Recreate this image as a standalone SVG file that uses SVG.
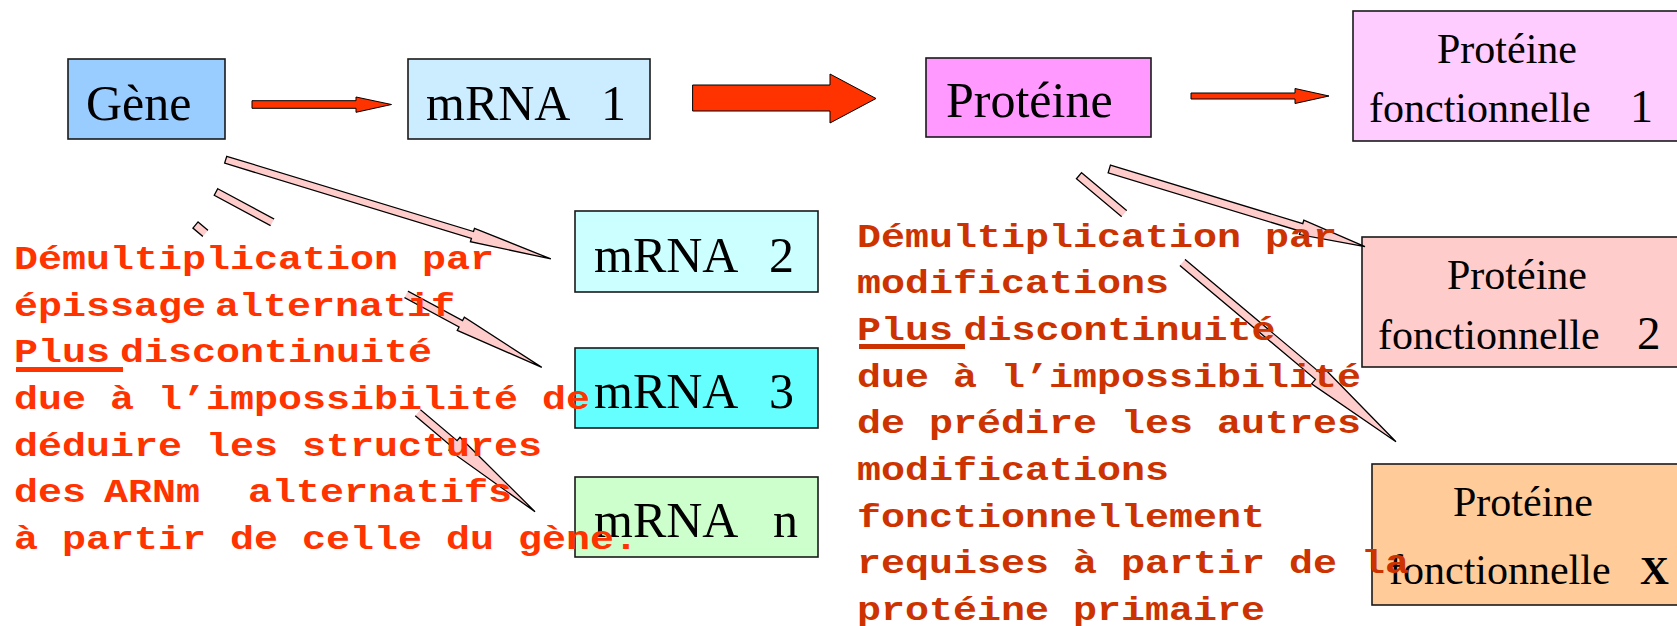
<svg xmlns="http://www.w3.org/2000/svg" width="1677" height="626" viewBox="0 0 1677 626">
  <style>
    .box { stroke: #1a1a1a; stroke-width: 1.6; }
    .lbl { font-family: "Liberation Serif", "Times New Roman", serif; fill: #000; }
    .big { font-size: 50px; }
    .mid { font-size: 42px; }
    .flow { fill: #FF3300; stroke: #000; stroke-width: 1; }
    .branch { fill: #FFCCCC; stroke: #000; stroke-width: 1.3; stroke-linejoin: miter; }
    .note { font-family: "Liberation Mono", "Courier New", monospace; font-weight: bold; font-size: 34px; }
    .noteL { fill: #FF3300; }
    .noteR { fill: #CC3300; }
  </style>
  <defs>
    <clipPath id="clipB" clipPathUnits="userSpaceOnUse">
      <rect x="-5" y="-20" width="69" height="40"/>
      <rect x="216" y="-20" width="170" height="40"/>
    </clipPath>
    <clipPath id="clipC" clipPathUnits="userSpaceOnUse">
      <rect x="-5" y="-20" width="18" height="40"/>
      <rect x="291" y="-20" width="170" height="40"/>
    </clipPath>
    <clipPath id="clipE" clipPathUnits="userSpaceOnUse">
      <rect x="-5" y="-20" width="64" height="40"/>
      <rect x="135" y="-20" width="300" height="40"/>
    </clipPath>
  </defs>

  <rect width="1677" height="626" fill="#fff"/>

  <!-- nodes -->
  <g id="gene">
    <rect class="box" x="68" y="59" width="157" height="80" fill="#99CCFF"/>
    <text class="lbl big" x="86" y="120">Gène</text>
  </g>
  <g id="mrna1">
    <rect class="box" x="408" y="59" width="242" height="80" fill="#CCECFF"/>
    <text class="lbl big" x="426" y="120">mRNA</text>
    <text class="lbl big" x="601" y="120">1</text>
  </g>
  <g id="proteine">
    <rect class="box" x="926" y="58" width="225" height="79" fill="#FF99FF"/>
    <text class="lbl big" x="946" y="117">Protéine</text>
  </g>
  <g id="prot-f1">
    <rect class="box" x="1353" y="11" width="340" height="130" fill="#FFCCFF"/>
    <text class="lbl mid" x="1507" y="63" text-anchor="middle">Protéine</text>
    <text class="lbl mid" x="1369" y="122">fonctionnelle</text>
    <text class="lbl" x="1630" y="122" font-size="46">1</text>
  </g>
  <g id="mrna2">
    <rect class="box" x="575" y="211" width="243" height="81" fill="#CCFFFF"/>
    <text class="lbl big" x="594" y="272">mRNA</text>
    <text class="lbl big" x="769" y="272">2</text>
  </g>
  <g id="mrna3">
    <rect class="box" x="575" y="348" width="243" height="80" fill="#66FFFF"/>
    <text class="lbl big" x="594" y="408">mRNA</text>
    <text class="lbl big" x="769" y="408">3</text>
  </g>
  <g id="mrnan">
    <rect class="box" x="575" y="477" width="243" height="80" fill="#CCFFCC"/>
    <text class="lbl big" x="594" y="537">mRNA</text>
    <text class="lbl big" x="773" y="537">n</text>
  </g>
  <g id="prot-f2">
    <rect class="box" x="1362" y="237" width="330" height="130" fill="#FFCCCC"/>
    <text class="lbl mid" x="1517" y="289" text-anchor="middle">Protéine</text>
    <text class="lbl mid" x="1378" y="349">fonctionnelle</text>
    <text class="lbl" x="1637" y="349" font-size="47">2</text>
  </g>
  <g id="prot-fx">
    <rect class="box" x="1372" y="464" width="320" height="141" fill="#FFCC99"/>
    <text class="lbl mid" x="1523" y="516" text-anchor="middle">Protéine</text>
    <text class="lbl mid" x="1389" y="584">fonctionnelle</text>
    <text class="lbl" x="1640" y="584" font-size="40" font-weight="bold">X</text>
  </g>

  <!-- connectors -->
  <g id="connectors">
    <polygon class="flow" points="252,100.7 356,100.7 356,97 391.5,104.5 356,112.3 356,108.3 252,108.3"/>
    <polygon class="flow" points="692.6,85 830,85 830,74 876,98.5 830,123 830,111 692.6,111"/>
    <polygon class="flow" points="1191,93 1295,93 1295,88.5 1329,96 1295,103.5 1295,99 1191,99"/>

    <g transform="translate(225.7,159.7) rotate(16.97)">
      <polygon class="branch" points="0,-3.6 258,-3.6 258,-7 340,0 258,7 258,3.6 0,3.6"/>
    </g>
    <g transform="translate(216,192) rotate(28.29)">
      <polygon class="branch" clip-path="url(#clipB)" points="0,-3.7 278,-3.7 278,-7.5 370,0 278,7.5 278,3.7 0,3.7"/>
    </g>
    <g transform="translate(195.5,225) rotate(40.18)">
      <polygon class="branch" clip-path="url(#clipC)" points="0,-4 339,-4 339,-8.5 444.4,0 339,8.5 339,4 0,4"/>
    </g>
    <g transform="translate(1109.3,169) rotate(16.9)">
      <polygon class="branch" points="0,-4 201,-4 201,-7.5 267.2,0 201,7.5 201,4 0,4"/>
    </g>
    <g transform="translate(1079,175.7) rotate(40)">
      <polygon class="branch" clip-path="url(#clipE)" points="0,-4 312,-4 312,-10 413.8,0 312,10 312,4 0,4"/>
    </g>
  </g>

  <!-- annotation: alternative splicing -->
  <g id="note-splicing">
    <text class="note noteL" transform="scale(1.17647,1)">
      <tspan x="11.9" y="269">Démultiplication par</tspan>
      <tspan x="11.9" y="316">épissage</tspan><tspan x="182.75" y="316">alternatif</tspan>
      <tspan x="11.9" y="362">Plus</tspan><tspan x="102" y="362">discontinuité</tspan>
      <tspan x="11.9" y="409">due à l’impossibilité de</tspan>
      <tspan x="11.9" y="456">déduire les structures</tspan>
      <tspan x="11.9" y="502">des</tspan><tspan x="88.4" y="502">ARNm</tspan><tspan x="210.8" y="502">alternatifs</tspan>
      <tspan x="11.9" y="549">à partir de celle du gène.</tspan>
    </text>
    <rect x="16" y="367" width="107" height="5" fill="#FF3300"/>
  </g>

  <!-- annotation: protein modifications -->
  <g id="note-modifications">
    <text class="note noteR" transform="scale(1.17647,1)">
      <tspan x="728.45" y="247">Démultiplication par</tspan>
      <tspan x="728.45" y="293">modifications</tspan>
      <tspan x="728.45" y="340">Plus</tspan><tspan x="818.98" y="340">discontinuité</tspan>
      <tspan x="728.45" y="387">due à l’impossibilité</tspan>
      <tspan x="728.45" y="433">de prédire les autres</tspan>
      <tspan x="728.45" y="480">modifications</tspan>
      <tspan x="728.45" y="527">fonctionnellement</tspan>
      <tspan x="728.45" y="573">requises à partir de la</tspan>
      <tspan x="728.45" y="620">protéine primaire</tspan>
    </text>
    <rect x="859" y="344" width="106" height="5" fill="#CC3300"/>
  </g>
</svg>
